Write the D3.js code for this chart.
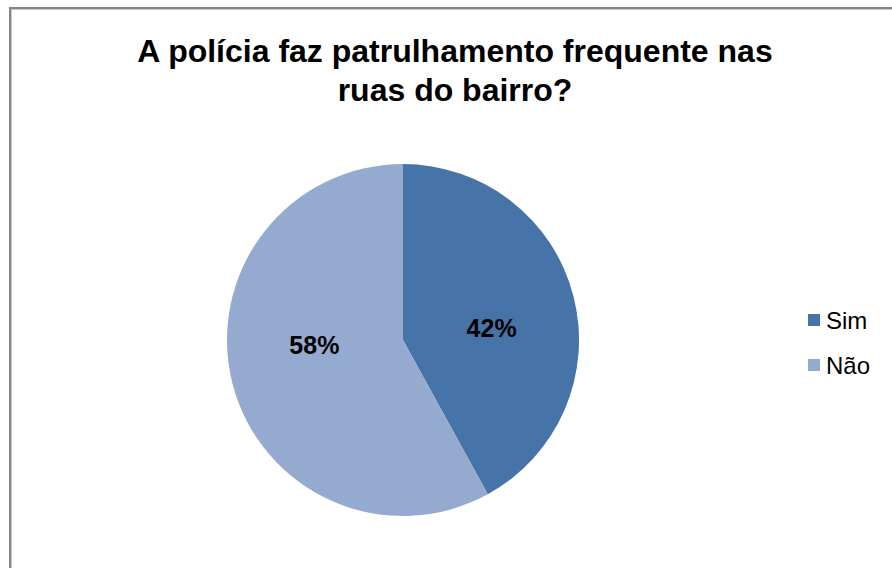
<!DOCTYPE html>
<html>
<head>
<meta charset="utf-8">
<script src="https://cdn.jsdelivr.net/npm/d3@7/dist/d3.min.js"></script>
<style>
  html, body { margin: 0; padding: 0; background: #fff; }
  svg { display: block; }
</style>
</head>
<body>
<svg id="chart" width="892" height="568"></svg>
<script>
const titleLines = ["A polícia faz patrulhamento frequente nas", "ruas do bairro?"];
const categories = ["Sim", "Não"];
const values = [42, 58];
const colors = ["#4673A8", "#95AACF"];

const svg = d3.select("#chart");

// outer frame (right/bottom edges run off the picture)
svg.append("rect")
  .attr("x", 10).attr("y", 8).attr("width", 920).attr("height", 600)
  .attr("fill", "#fff").attr("stroke", "#868686").attr("stroke-width", 2);
svg.append("rect")
  .attr("x", 11.5).attr("y", 9.5).attr("width", 920).attr("height", 600)
  .attr("fill", "none").attr("stroke", "#c8c8c8").attr("stroke-width", 1);

// title
const title = svg.append("text")
  .attr("text-anchor", "middle")
  .attr("font-family", "Liberation Sans, Arial, sans-serif")
  .attr("font-weight", "bold")
  .attr("font-size", 32)
  .attr("fill", "#000");
titleLines.forEach((t, i) => {
  title.append("tspan").attr("x", 455).attr("y", 62 + i * 38.5).text(t);
});

// pie
const cx = 403, cy = 340, r = 176;
const pie = d3.pie().sort(null).value(d => d.v);
const data = pie(categories.map((c, i) => ({ c, v: values[i] })));
const arc = d3.arc().innerRadius(0).outerRadius(r);
const labelArc = d3.arc().innerRadius(r * 0.52).outerRadius(r * 0.52);

const g = svg.append("g").attr("transform", `translate(${cx},${cy})`);
g.selectAll("path.slice").data(data).enter().append("path")
  .attr("class", "slice")
  .attr("d", arc)
  .attr("fill", (d, i) => colors[i]);

const total = d3.sum(values);
g.selectAll("text.lbl").data(data).enter().append("text")
  .attr("class", "lbl")
  .attr("text-anchor", "middle")
  .attr("dominant-baseline", "central")
  .attr("font-family", "Liberation Sans, Arial, sans-serif")
  .attr("font-weight", "bold")
  .attr("font-size", 25)
  .attr("fill", "#000")
  .attr("x", d => labelArc.centroid(d)[0])
  .attr("y", d => -3.5 + labelArc.centroid(d)[1] * 0.38)
  .text(d => Math.round(d.data.v / total * 100) + "%");

// legend
const legend = svg.append("g");
categories.forEach((c, i) => {
  const y = 320 + i * 45;
  legend.append("rect")
    .attr("x", 808).attr("y", y - 6).attr("width", 12).attr("height", 12)
    .attr("fill", colors[i]);
  legend.append("text")
    .attr("x", 826).attr("y", y)
    .attr("dominant-baseline", "central")
    .attr("font-family", "Liberation Sans, Arial, sans-serif")
    .attr("font-size", 24)
    .attr("fill", "#000")
    .text(c);
});
</script>
</body>
</html>
